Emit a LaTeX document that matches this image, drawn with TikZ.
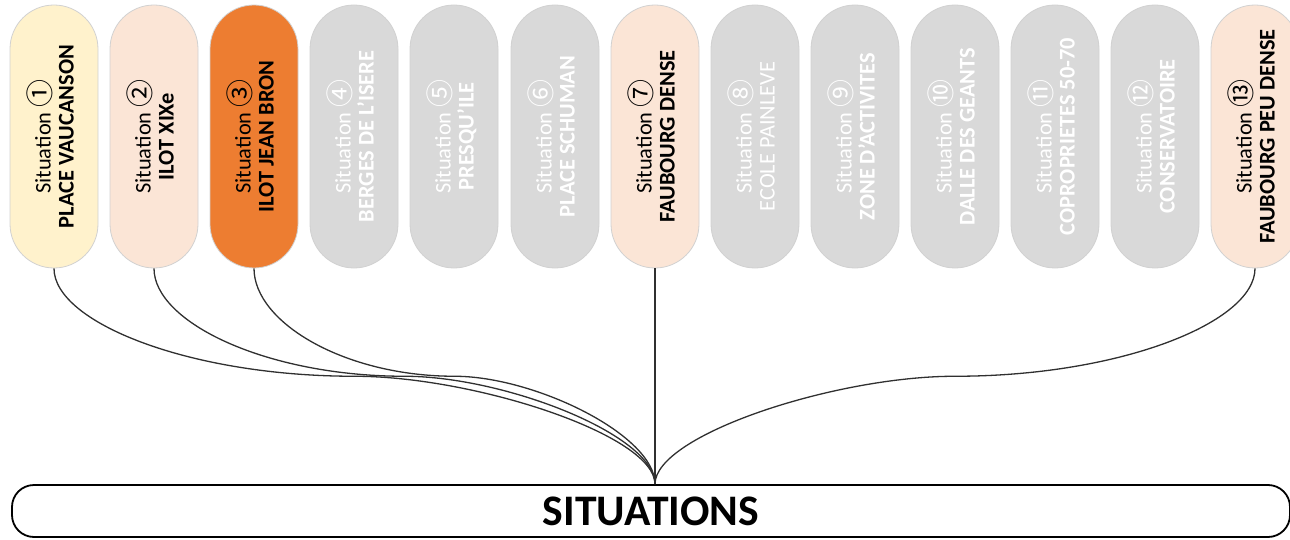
\documentclass[tikz,border=0pt]{standalone}
\usepackage{fontspec}
\setmainfont{Carlito}
\newfontfamily\circfont{Noto Sans CJK JP}
\usetikzlibrary{calc}

\definecolor{pillyellow}{HTML}{FFF2CC}
\definecolor{pillpeach}{HTML}{FBE5D6}
\definecolor{pillorange}{HTML}{ED7D31}
\definecolor{pillgrey}{HTML}{D9D9D9}
\definecolor{linkgrey}{HTML}{303030}

\newcommand{\sitlabel}[2]{\rotatebox{90}{\begin{tabular}{@{}c@{}}Situation {\circfont\fontsize{14}{12}\selectfont #1}\\[-1pt] #2\end{tabular}}}

\tikzset{
  pill/.style={draw=black!18, line width=0.4pt, rounded corners=22pt,
    minimum width=44pt, minimum height=131.5pt, inner sep=0pt,
    font=\fontsize{11.2}{12.5}\selectfont},
  pillon/.style={pill, text=black},
  pilloff/.style={pill, fill=pillgrey, text=white},
  link/.style={linkgrey, line width=0.65pt}
}

\begin{document}
\begin{tikzpicture}[x=0.5pt, y=-0.5pt]
        \useasboundingbox (0,0) rectangle (1290,540);

        \node[pillon, fill=pillyellow] (p1) at (54,136.5) {\sitlabel{①}{\textbf{PLACE VAUCANSON}}};
        \node[pillon, fill=pillpeach] (p2) at (154,136.5) {\sitlabel{②}{\textbf{ILOT XIXe}}};
        \node[pillon, fill=pillorange] (p3) at (254,136.5) {\sitlabel{③}{\textbf{ILOT JEAN BRON}}};
        \node[pilloff] (p4) at (354,136.5) {\sitlabel{④}{\textbf{BERGES DE L’ISERE}}};
        \node[pilloff] (p5) at (454,136.5) {\sitlabel{⑤}{\textbf{PRESQU’ILE}}};
        \node[pilloff] (p6) at (555,136.5) {\sitlabel{⑥}{\textbf{PLACE SCHUMAN}}};
        \node[pillon, fill=pillpeach] (p7) at (655,136.5) {\sitlabel{⑦}{\textbf{FAUBOURG DENSE}}};
        \node[pilloff] (p8) at (755,136.5) {\sitlabel{⑧}{ECOLE PAINLEVE}};
        \node[pilloff] (p9) at (855,136.5) {\sitlabel{⑨}{\textbf{ZONE D’ACTIVITES}}};
        \node[pilloff] (p10) at (955,136.5) {\sitlabel{⑩}{\textbf{DALLE DES GEANTS}}};
        \node[pilloff] (p11) at (1055,136.5) {\sitlabel{⑪}{\textbf{COPROPRIETES 50-70}}};
        \node[pilloff] (p12) at (1155,136.5) {\sitlabel{⑫}{\textbf{CONSERVATOIRE}}};
        \node[pillon, fill=pillpeach] (p13) at (1255,136.5) {\sitlabel{⑬}{\textbf{FAUBOURG PEU DENSE}}};

        \node[draw, line width=0.9pt, rounded corners=11pt, fill=white,
              minimum width=639pt, minimum height=26pt, inner sep=0pt,
              font=\fontsize{21.8}{21.8}\selectfont\bfseries] (bus) at (651,511) {SITUATIONS};
        \coordinate (join) at (p7.south |- bus.north);

        % flat middle of each bent link
        \coordinate (m1) at ($(p1.south)!0.5!(join)$);
        \coordinate (m2) at ($(p2.south)!0.5!(join)$);
        \coordinate (m3) at ($(p3.south)!0.5!(join)$);
        \coordinate (m13) at ($(p13.south)!0.5!(join)$);

        \draw[link] (p1.south) .. controls +(0,54) and +(-165,0) .. (m1) .. controls +(120,0) and +(0,-49) .. (join);
        \draw[link] (p2.south) .. controls +(0,54) and +(-138,0) .. (m2) .. controls +(100,0) and +(0,-49) .. (join);
        \draw[link] (p3.south) .. controls +(0,54) and +(-110,0) .. (m3) .. controls +(80,0) and +(0,-49) .. (join);
        \draw[link] (p7.south) -- (join);
        \draw[link] (p13.south) .. controls +(0,54) and +(165,0) .. (m13) .. controls +(-120,0) and +(0,-49) .. (join);
    \end{tikzpicture}
\end{document}
